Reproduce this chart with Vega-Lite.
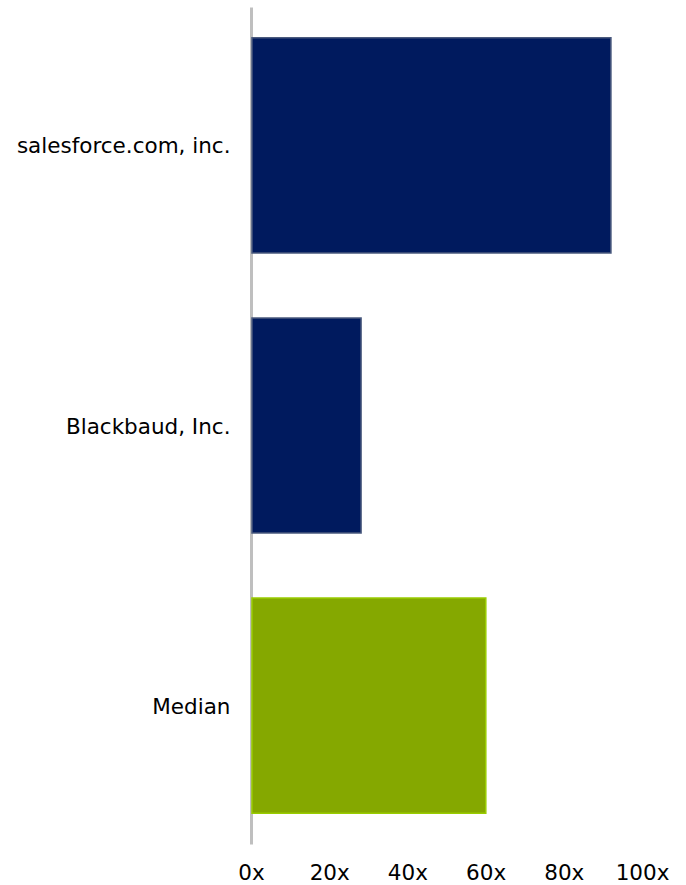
{
  "$schema": "https://vega.github.io/schema/vega-lite/v6.json",
  "autosize": "none",
  "padding": {"left": 251, "top": 7, "right": 44, "bottom": 41},
  "width": 391,
  "height": 837,
  "background": "white",
  "config": {"view": {"stroke": null}},
  "data": {"values": [
    {"company": "salesforce.com, inc.", "value": 91.8, "kind": "peer"},
    {"company": "Blackbaud, Inc.", "value": 27.9, "kind": "peer"},
    {"company": "Median", "value": 59.8, "kind": "median"}
  ]},
  "mark": {"type": "bar", "strokeWidth": 1.5, "xOffset": 1},
  "encoding": {
    "y": {
      "field": "company", "type": "nominal", "sort": null,
      "scale": {"paddingInner": 0.232, "paddingOuter": 0.11},
      "axis": {"title": null, "ticks": false, "domainColor": "#BFBFBF", "domainWidth": 3,
               "labelFont": "DejaVu Sans", "labelFontSize": 21.5, "labelColor": "#000000",
               "labelPadding": 21, "labelLimit": 250, "labelOffset": 2}
    },
    "x": {
      "field": "value", "type": "quantitative",
      "scale": {"domain": [0, 100], "nice": false},
      "axis": {"title": null, "values": [0, 20, 40, 60, 80, 100], "labelExpr": "datum.value + 'x'",
               "domain": false, "ticks": false, "grid": false, "labelFlush": false,
               "labelFont": "DejaVu Sans", "labelFontSize": 21.5, "labelColor": "#000000",
               "labelPadding": 18}
    },
    "color": {
      "field": "kind", "type": "nominal", "legend": null,
      "scale": {"domain": ["peer", "median"], "range": ["#001A5E", "#85A800"]}
    },
    "stroke": {
      "field": "kind", "type": "nominal", "legend": null,
      "scale": {"domain": ["peer", "median"], "range": ["#4A5A7E", "#99CC00"]}
    }
  }
}
